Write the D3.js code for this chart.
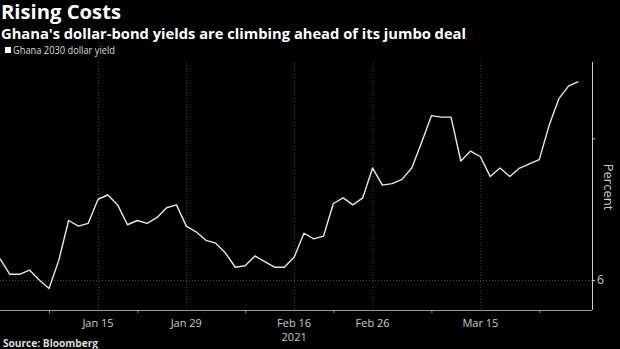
<!DOCTYPE html>
<html><head><meta charset="utf-8">
<script src="https://cdn.jsdelivr.net/npm/d3@7"></script>
<style>
html,body{margin:0;padding:0;background:#000;}
svg{display:block;}
text{font-family:"Open Sans","DejaVu Sans",sans-serif;}
</style></head>
<body>
<script>
const dates = ["2020-12-31",
"2021-01-04","2021-01-05","2021-01-06","2021-01-07","2021-01-08",
"2021-01-11","2021-01-12","2021-01-13","2021-01-14","2021-01-15",
"2021-01-19","2021-01-20","2021-01-21","2021-01-22",
"2021-01-25","2021-01-26","2021-01-27","2021-01-28","2021-01-29",
"2021-02-01","2021-02-02","2021-02-03","2021-02-04","2021-02-05",
"2021-02-08","2021-02-09","2021-02-10","2021-02-11","2021-02-12",
"2021-02-16","2021-02-17","2021-02-18","2021-02-19",
"2021-02-22","2021-02-23","2021-02-24","2021-02-25","2021-02-26",
"2021-03-01","2021-03-02","2021-03-03","2021-03-04","2021-03-05",
"2021-03-08","2021-03-09","2021-03-10","2021-03-11","2021-03-12",
"2021-03-15","2021-03-16","2021-03-17","2021-03-18","2021-03-19",
"2021-03-22","2021-03-23","2021-03-24","2021-03-25","2021-03-26",
"2021-03-29"];
const yields = [6.15,
6.04,6.04,6.07,6.00,5.94,
6.14,6.42,6.38,6.40,6.57,
6.60,6.53,6.39,6.42,
6.40,6.44,6.51,6.53,6.38,
6.34,6.28,6.26,6.19,6.09,
6.10,6.17,6.13,6.09,6.09,
6.16,6.33,6.29,6.31,
6.54,6.58,6.53,6.58,6.79,
6.67,6.68,6.71,6.79,6.97,
7.16,7.15,7.15,6.84,6.91,
6.87,6.73,6.79,6.73,6.79,
6.82,6.85,7.09,7.28,7.37,
7.40];
const labelDates = ["2021-01-15","2021-01-29","2021-02-16","2021-02-26","2021-03-15"];
const labelText = ["Jan 15","Jan 29","Feb 16","Feb 26","Mar 15"];
const minorDates = ["2021-01-08","2021-01-22","2021-02-08","2021-02-22","2021-03-08","2021-03-23"];
const yTicks = [6, 7];
const yTickLabels = ["6", ""];
const title = "Rising Costs";
const subtitle = "Ghana's dollar-bond yields are climbing ahead of its jumbo deal";
const legendLabel = "Ghana 2030 dollar yield";
const yearLabel = "2021";
const source = "Source: Bloomberg";

(function () {
const W = 620, H = 349;
const pL = 0, pR = 592, pT = 62, pB = 310;
const svg = d3.select("body").append("svg").attr("width", W).attr("height", H);

const idx = new Map(dates.map((d, i) => [d, i]));
const x = d3.scaleLinear().domain([0, 60.38]).range([pL, pR]);
const y = d3.scaleLinear().domain([5.788, 7.539]).range([pB, pT]);

// titles
svg.append("text").attr("x", 1).attr("y", 19).attr("fill", "#fff")
  .attr("font-size", 19).attr("font-weight", "bold")
  .attr("textLength", 120).attr("lengthAdjust", "spacingAndGlyphs").text(title);
svg.append("text").attr("x", 1).attr("y", 38.5).attr("fill", "#fff")
  .attr("font-size", 14).attr("font-weight", "bold")
  .attr("textLength", 465).attr("lengthAdjust", "spacingAndGlyphs").text(subtitle);
// legend
svg.append("rect").attr("x", 5).attr("y", 47).attr("width", 6).attr("height", 6).attr("fill", "#fff");
svg.append("text").attr("x", 13).attr("y", 54).attr("fill", "#ddd")
  .attr("font-size", 10).attr("textLength", 102).attr("lengthAdjust", "spacingAndGlyphs").text(legendLabel);

// vertical gridlines
svg.append("g").selectAll("line").data(labelDates).join("line")
  .attr("x1", d => x(idx.get(d)) + 0.5).attr("x2", d => x(idx.get(d)) + 0.5)
  .attr("y1", pT).attr("y2", pB)
  .attr("stroke", "#4a4a4a").attr("stroke-width", 1).attr("stroke-dasharray", "1,2");
// horizontal gridline at 6
svg.append("g").selectAll("line").data([6]).join("line")
  .attr("x1", pL).attr("x2", pR).attr("y1", d => y(d) + 0.5).attr("y2", d => y(d) + 0.5)
  .attr("stroke", "#4a4a4a").attr("stroke-width", 1).attr("stroke-dasharray", "1,2");

// x axis
const xAxis = d3.axisBottom(x).tickValues(minorDates.map(d => idx.get(d))).tickSize(3).tickFormat("");
const gx = svg.append("g").attr("transform", `translate(0,${pB})`).call(xAxis);
gx.select(".domain").attr("stroke", "#999").attr("d", `M${pL},0.5H${pR}`);
gx.selectAll(".tick line").attr("stroke", "#999");
svg.append("g").selectAll("text").data(labelDates).join("text")
  .attr("x", d => x(idx.get(d))).attr("y", 327).attr("text-anchor", "middle")
  .attr("fill", "#ccc").attr("font-size", 11).text((d, i) => labelText[i]);
svg.append("text").attr("x", x(idx.get("2021-02-16"))).attr("y", 341).attr("text-anchor", "middle")
  .attr("fill", "#ccc").attr("font-size", 11).text(yearLabel);

// y axis right
const yAxis = d3.axisRight(y).tickValues(yTicks).tickSize(3).tickPadding(2)
  .tickFormat((d, i) => yTickLabels[i]);
const gy = svg.append("g").attr("transform", `translate(${pR},0)`).call(yAxis);
gy.select(".domain").attr("stroke", "#ccc").attr("d", `M0.5,${pT}V${pB}`);
gy.selectAll(".tick line").attr("stroke", "#ccc");
gy.selectAll(".tick text").attr("fill", "#ccc").attr("font-size", 12)
  .attr("font-family", '"Open Sans","DejaVu Sans",sans-serif');
svg.append("text").attr("transform", `translate(604,187) rotate(90)`)
  .attr("text-anchor", "middle").attr("fill", "#ccc").attr("font-size", 13).text("Percent");

// line
const line = d3.line().x((d, i) => x(i)).y(d => y(d));
svg.append("path").datum(yields).attr("d", line).attr("fill", "none")
  .attr("stroke", "#e8e8e8").attr("stroke-width", 1.4).attr("stroke-linejoin", "round");

// source
svg.append("text").attr("x", 3).attr("y", 347).attr("fill", "#ddd")
  .attr("font-size", 10).attr("font-weight", "bold")
  .attr("textLength", 95).attr("lengthAdjust", "spacingAndGlyphs").text(source);
})();
</script>
</body></html>
